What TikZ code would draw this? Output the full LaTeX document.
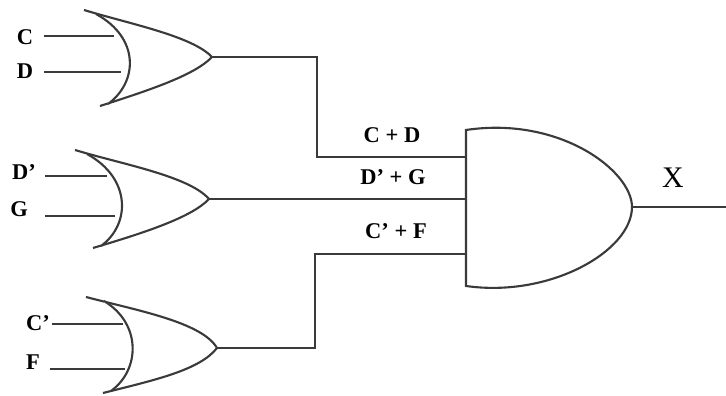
\documentclass[tikz,border=0pt]{standalone}
\usepackage{amsmath}
\usepackage{xcolor}
\usepackage{fontspec}
\setmainfont{Liberation Serif}
\definecolor{inkgray}{HTML}{3A3A3A}

\begin{document}
\begin{tikzpicture}[
  wire/.style = {draw=inkgray, line width=0.6pt},
  gate/.style = {draw=inkgray, line width=0.6pt, fill=white},
  lbl/.style = {inner sep=0pt, text=black, font=\fontsize{6.4}{7}\selectfont\bfseries}
]
\useasboundingbox (0,0) rectangle (7.26,3.96);

%% porte OU 1
\coordinate (orA) at (2.12,3.39);
\draw[gate] (0.84,3.86) .. controls (1.30,3.72) and (1.92,3.60) .. (orA)
  .. controls (1.95,3.21) and (1.50,3.06) .. (1.00,2.90);
\draw[gate] (0.96,3.82) .. controls (1.40,3.58) and (1.38,3.14) .. (1.08,2.92);

%% porte OU 2
\coordinate (orB) at (2.09,1.97);
\draw[gate] (0.75,2.46) .. controls (1.21,2.32) and (1.89,2.20) .. (orB)
  .. controls (1.92,1.79) and (1.47,1.64) .. (0.93,1.48);
\draw[gate] (0.87,2.42) .. controls (1.31,2.18) and (1.31,1.72) .. (1.01,1.50);

%% porte OU 3
\coordinate (orC) at (2.17,0.48);
\draw[gate] (0.86,0.99) .. controls (1.35,0.86) and (2.02,0.74) .. (orC)
  .. controls (2.00,0.26) and (1.55,0.16) .. (1.03,0.03);
\draw[gate] (1.04,0.95) .. controls (1.42,0.72) and (1.40,0.26) .. (1.11,0.05);

%% porte ET
\coordinate (inA) at (4.66,2.39);
\coordinate (inB) at (4.66,1.97);
\coordinate (inC) at (4.66,1.42);
\coordinate (andOut) at (6.32,1.89);
\coordinate (xEnd) at (7.26,1.89);
\draw[gate] (4.66,2.66) .. controls (5.60,2.80) and (6.32,2.25) .. (andOut)
  .. controls (6.32,1.45) and (5.50,0.98) .. (4.66,1.10) -- cycle;

%% entrees
\coordinate (c1) at (0.44,3.60);
\coordinate (c2) at (1.14,3.60);
\coordinate (d1) at (0.44,3.24);
\coordinate (d2) at (1.21,3.24);
\coordinate (e1) at (0.45,2.20);
\coordinate (e2) at (1.07,2.20);
\coordinate (g1) at (0.45,1.80);
\coordinate (g2) at (1.15,1.80);
\coordinate (f1) at (0.52,0.72);
\coordinate (f2) at (1.23,0.72);
\coordinate (h1) at (0.50,0.27);
\coordinate (h2) at (1.25,0.27);
\draw[wire] (c1) -- (c2);
\draw[wire] (d1) -- (d2);
\draw[wire] (e1) -- (e2);
\draw[wire] (g1) -- (g2);
\draw[wire] (f1) -- (f2);
\draw[wire] (h1) -- (h2);

%% autres traits
\draw[wire] (orA) -- (3.17,3.39) -- (3.17,2.39) -- (inA);
\draw[wire] (orB) -- (inB);
\draw[wire] (orC) -- (3.15,0.48) -- (3.15,1.42) -- (inC);
\draw[wire] (andOut) -- (xEnd);

%% textes
\node[lbl] (lblC) at (0.25,3.59) {C};
\node[lbl] (lblD) at (0.25,3.25) {D};
\node[lbl] (lblDp) at (0.24,2.24) {D'};
\node[lbl] (lblG) at (0.19,1.87) {G};
\node[lbl] (lblCp) at (0.38,0.73) {C'};
\node[lbl] (lblF) at (0.33,0.34) {F};
\node[lbl] (lblCD) at (3.92,2.61) {C + D};
\node[lbl] (lblDG) at (3.93,2.19) {D' + G};
\node[lbl] (lblCF) at (3.96,1.65) {C' + F};
\node[lbl, font=\fontsize{8.5}{9}\selectfont] (lblX) at (6.73,2.18) {X};
\end{tikzpicture}
\end{document}
